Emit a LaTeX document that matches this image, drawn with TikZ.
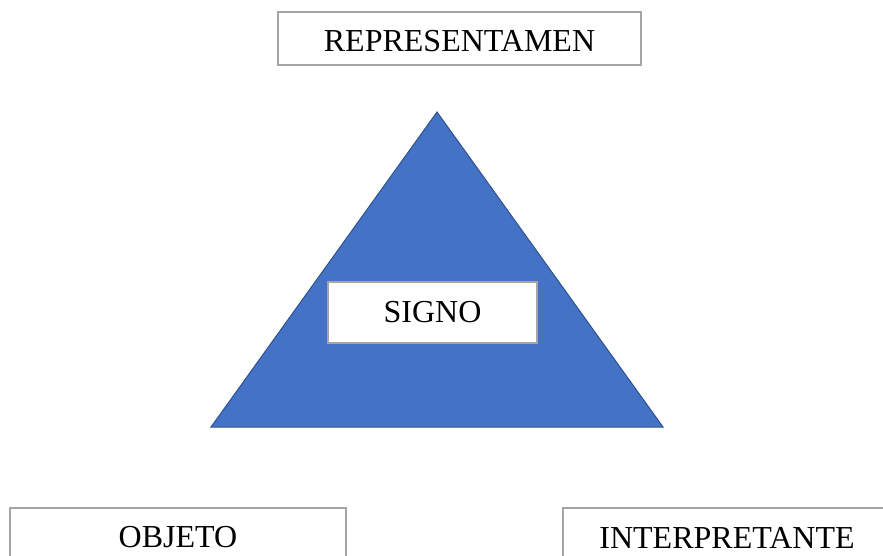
\documentclass[tikz,border=0pt]{standalone}
\usepackage{fontspec}
\setmainfont{Liberation Serif}
\usepackage{tikz}
\definecolor{triblue}{HTML}{4472C4}
\definecolor{triedge}{HTML}{2F528F}
\definecolor{boxgray}{HTML}{A5A5A5}
\tikzset{term/.style={draw=boxgray, line width=1.3pt, fill=white, inner sep=0pt,
    font=\fontsize{32}{36}\selectfont}}

\begin{document}
\begin{tikzpicture}[x=1pt, y=-1pt]

  \useasboundingbox (0,0) rectangle (883,556);
  \clip (0,0) rectangle (883,556);

  % triangle
  \coordinate (apex) at (437,112);
  \coordinate (baseL) at (211,427);
  \coordinate (baseR) at (663,427);
  \draw[fill=triblue, draw=triedge, line width=1pt] (apex) -- (baseR) -- (baseL) -- cycle;

  \node[term, minimum width=363pt, minimum height=53pt, text height=26pt] (rep) at (459.5,38.5) {REPRESENTAMEN};
  \node[term, minimum width=209pt, minimum height=61pt] (signo) at (432.5,312.5) {SIGNO};
  % bottom boxes run off the page
  \node[term, minimum width=336pt, minimum height=59pt] (obj) at (178,537.5) {OBJETO};
  \node[term, minimum width=328pt, minimum height=59pt] (interp) at (727,537.5) {INTERPRETANTE};

\end{tikzpicture}
\end{document}
